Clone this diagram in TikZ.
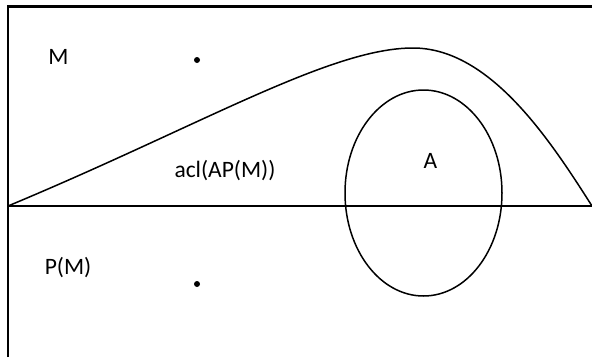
\documentclass[tikz,border=0pt]{standalone}
\usepackage{fontspec}
\setmainfont{Carlito}
\usetikzlibrary{positioning}

\begin{document}
\begin{tikzpicture}[x=1pt,y=-1pt]
\tikzset{
  lbl/.style={font=\fontsize{23.5}{28}\selectfont,inner sep=0pt},
  pt/.style={circle,fill=black,inner sep=0pt,minimum size=6pt}
}
\useasboundingbox (0,0) rectangle (592,357);
\draw[line width=2.8pt] (8,357) -- (8,6.5) -- (592,6.5);
\draw[line width=2.8pt] (8,206) -- (592,206);
\draw[line width=1.5pt] (8,206) .. controls (200,126) and (330,48) .. (413,48)
  .. controls (490,48) and (550,140) .. (592,206);
\draw[line width=1.5pt] (423.5,193) ellipse [x radius=78.5, y radius=103];

\node[lbl] (m) at (58.5,57) {M};
\node[lbl] (pm) at (68,268) {P(M)};
\node[lbl] (acl) at (225,171) {acl(AP(M))};
\node[lbl] (a) at (430.5,161) {A};
\node[pt] (dotm) at (197,60) {};
\node[pt] (dotpm) at (197,284) {};
\end{tikzpicture}
\end{document}
